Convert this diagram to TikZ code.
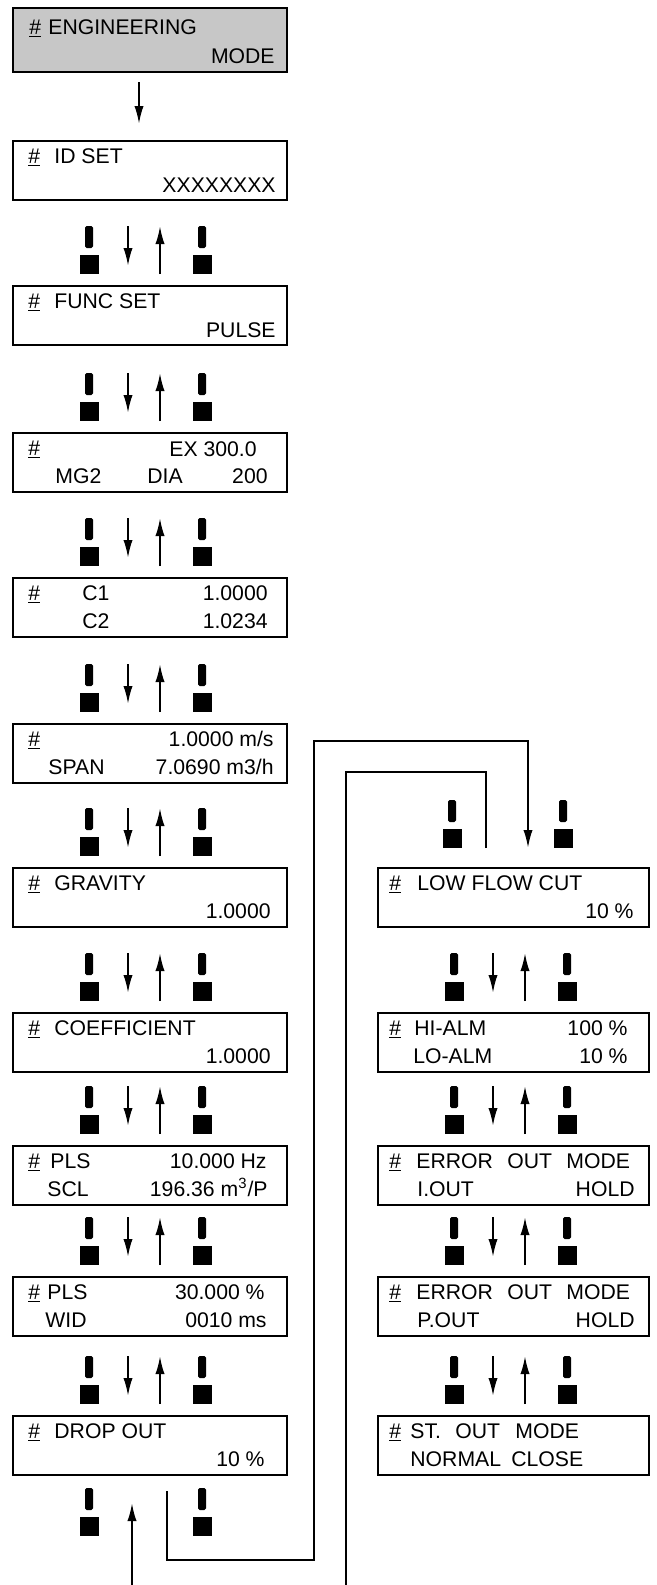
\documentclass[tikz,border=0pt]{standalone}
\usepackage{fontspec}
\setmainfont{Liberation Sans}
\usetikzlibrary{arrows.meta}
\tikzset{
 lcd/.style={draw,line width=1.3pt,minimum width=137pt,minimum height=29.5pt,anchor=north west,inner sep=0pt,outer sep=0pt},
 rcd/.style={lcd,minimum width=135.5pt},
 txt/.style={inner sep=0pt,anchor=base west},
 val/.style={inner sep=0pt,anchor=base east},
 arr/.style={line width=1pt,-{Latex[length=9pt,width=4.6pt]}},
 wire/.style={line width=1pt},
}
\newcommand{\hsh}{\underline{\#}}
\begin{document}
\begin{tikzpicture}[x=0.5pt,y=-0.5pt,font=\fontsize{10.6}{12}\selectfont]
\useasboundingbox (0,0) rectangle (657,1585);
% display boxes
\node[lcd,fill=black!22,minimum height=32pt] (eng) at (13,8) {};
\foreach \nm/\y in {id/141,func/286,ex/433,c1/578,span/724,grav/868,coef/1013,plsscl/1146,plswid/1277,drop/1416}
 \node[lcd] (\nm) at (13,\y) {};
\foreach \nm/\y in {low/868,alm/1013,erri/1146,errp/1277,stout/1416}
 \node[rcd] (\nm) at (378,\y) {};
% hash marks
\node[txt] at (29,34) {\hsh};
\foreach \y in {141,286,433,578,724,868,1013,1146,1277,1416}
 \node[txt] at (28,\y+22) {\hsh};
\foreach \y in {868,1013,1146,1277,1416}
 \node[txt] at (389,\y+22) {\hsh};
% left column texts
\node[txt] at (48,34) {ENGINEERING}; \node[val] at (275,63) {MODE};
\node[txt] at (54,163) {ID SET}; \node[val] at (276,192) {XXXXXXXX};
\node[txt] at (54,308) {FUNC SET}; \node[val] at (276,337) {PULSE};
\node[val] at (257,456) {EX 300.0};
\node[txt] at (55,483) {MG2}; \node[txt] at (147,483) {DIA}; \node[val] at (268,483) {200};
\node[txt] at (82,600) {C1}; \node[val] at (268,600) {1.0000};
\node[txt] at (82,628) {C2}; \node[val] at (268,628) {1.0234};
\node[val] at (274,746) {1.0000 m/s};
\node[txt] at (48,774) {SPAN}; \node[val] at (274,774) {7.0690 m3/h};
\node[txt] at (54,890) {GRAVITY}; \node[val] at (271,918) {1.0000};
\node[txt] at (54,1035) {COEFFICIENT}; \node[val] at (271,1063) {1.0000};
\node[txt] at (50,1168) {PLS}; \node[val] at (267,1168) {10.000 Hz};
\node[txt] at (47,1196) {SCL}; \node[val] at (268,1196) {196.36 m\textsuperscript{3}/P};
\node[txt] at (47,1299) {PLS}; \node[val] at (265,1299) {30.000 \%};
\node[txt] at (45,1327) {WID}; \node[val] at (267,1327) {0010 ms};
\node[txt] at (54,1438) {DROP OUT}; \node[val] at (265,1466) {10 \%};
% right column texts
\node[txt] at (417,890) {LOW FLOW CUT}; \node[val] at (634,918) {10 \%};
\node[txt] at (414,1035) {HI-ALM}; \node[val] at (628,1035) {100 \%};
\node[txt] at (413,1063) {LO-ALM}; \node[val] at (628,1063) {10 \%};
\foreach \y/\lab in {1146/I.OUT,1277/P.OUT}{
 \node[txt] at (416,\y+22) {ERROR}; \node[txt] at (507,\y+22) {OUT}; \node[txt] at (566,\y+22) {MODE};
 \node[txt] at (417,\y+50) {\lab}; \node[val] at (635,\y+50) {HOLD};
}
\node[txt] at (410,1438) {ST.}; \node[txt] at (455,1438) {OUT}; \node[txt] at (515,1438) {MODE};
\node[txt] at (410,1466) {NORMAL}; \node[txt] at (511,1466) {CLOSE};
% keys and up/down arrows between boxes
\foreach \b in {func,ex,c1,span,grav,coef,plsscl,plswid,drop,alm,erri,errp,stout}{
 \fill[rounded corners=0.8pt] ([shift={(72,-60)}]\b.north west) rectangle +(8,22);
 \fill ([shift={(66.5,-31)}]\b.north west) rectangle +(19,19);
 \fill[rounded corners=0.8pt] ([shift={(185,-60)}]\b.north west) rectangle +(8,22);
 \fill ([shift={(179.5,-31)}]\b.north west) rectangle +(19,19);
 \draw[arr] ([shift={(115,-60)}]\b.north west) -- ([shift={(115,-20)}]\b.north west);
 \draw[arr] ([shift={(147,-12)}]\b.north west) -- ([shift={(147,-60)}]\b.north west);
}
\fill[rounded corners=0.8pt] ([shift={(70,-68)}]low.north west) rectangle +(8,22);
\fill ([shift={(64.5,-39)}]low.north west) rectangle +(19,19);
\fill[rounded corners=0.8pt] ([shift={(181,-68)}]low.north west) rectangle +(8,22);
\fill ([shift={(175.5,-39)}]low.north west) rectangle +(19,19);
\fill[rounded corners=0.8pt] ([shift={(72,13)}]drop.south west) rectangle +(8,22);
\fill ([shift={(66.5,42)}]drop.south west) rectangle +(19,19);
\fill[rounded corners=0.8pt] ([shift={(185,13)}]drop.south west) rectangle +(8,22);
\fill ([shift={(179.5,42)}]drop.south west) rectangle +(19,19);
% connectors
\draw[arr] ([shift={(126,10)}]eng.south west) -- ([shift={(126,-17)}]id.north west);
\coordinate (lowdn) at ([shift={(150,-20)}]low.north west);
\coordinate (lowup) at ([shift={(108,-20)}]low.north west);
\coordinate (dropdn) at ([shift={(154,16)}]drop.south west);
\coordinate (dropup) at ([shift={(119,28)}]drop.south west);
\coordinate (offa) at (346,1585);
\coordinate (offb) at (132,1585);
\draw[arr] (dropdn) |- (314,1560) |- (528,741) -- (lowdn);
\draw[wire] (lowup) |- (346,772) -- (offa);
\draw[arr] (offb) -- (dropup);
\end{tikzpicture}
\end{document}
